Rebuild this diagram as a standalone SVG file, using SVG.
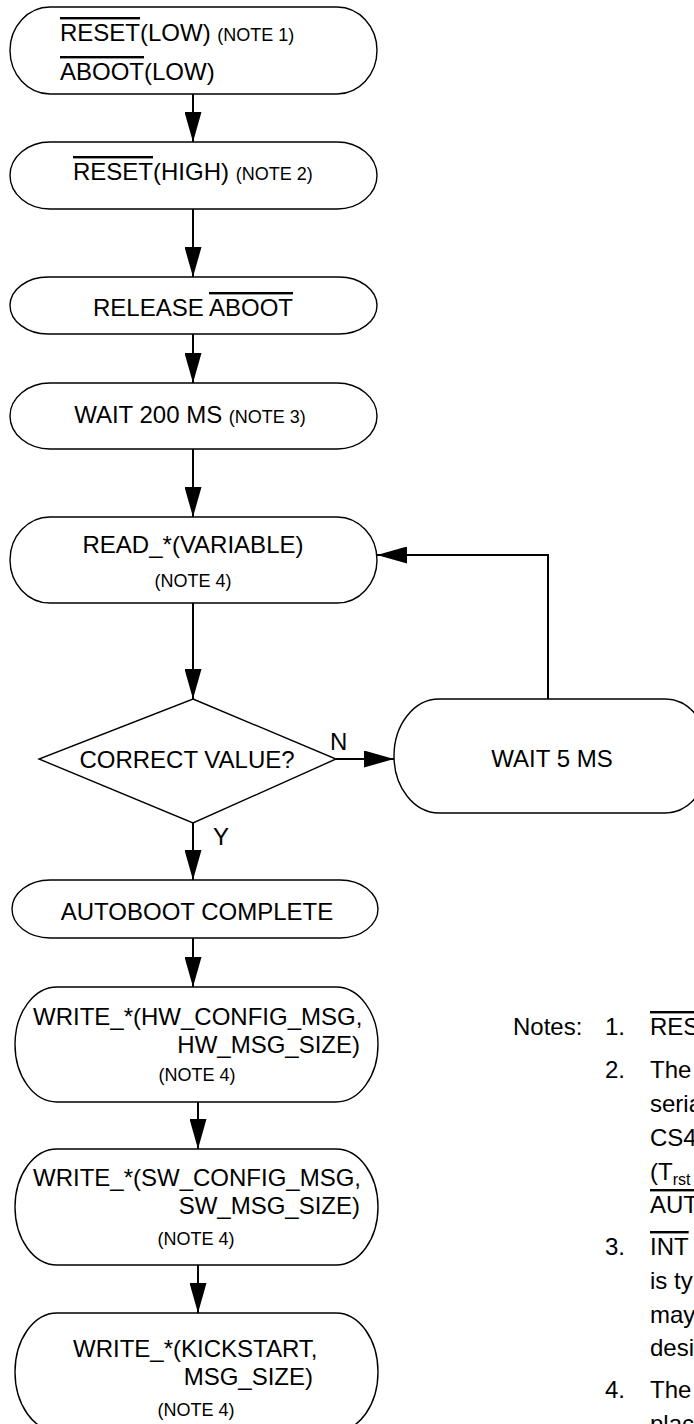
<svg xmlns="http://www.w3.org/2000/svg" width="694" height="1424" viewBox="0 0 694 1424">
<style>
text{font-family:"Liberation Sans",Arial,sans-serif;fill:#000;font-size:24px}
.s{font-size:18px}
.sub{font-size:16px}
.c{text-anchor:middle}
.e{text-anchor:end}
.ol{text-decoration:overline}
.node{fill:#fff;stroke:#000;stroke-width:1.4}
.conn{fill:none;stroke:#000;stroke-width:2}
</style>
<defs>
<marker id="ah" markerUnits="userSpaceOnUse" viewBox="0 0 30 17" markerWidth="30" markerHeight="17" refX="30" refY="8.5" orient="auto">
<path d="M0,0 L30,8.5 L0,17 Z" fill="#000"/>
</marker>
</defs>
<rect width="694" height="1424" fill="#fff"/>
<g id="connectors">
<line class="conn" x1="193" y1="94" x2="193" y2="142" marker-end="url(#ah)"/>
<line class="conn" x1="193" y1="209" x2="193" y2="277" marker-end="url(#ah)"/>
<line class="conn" x1="193" y1="334" x2="193" y2="383" marker-end="url(#ah)"/>
<line class="conn" x1="193" y1="449" x2="193" y2="517" marker-end="url(#ah)"/>
<line class="conn" x1="193" y1="603" x2="193" y2="699" marker-end="url(#ah)"/>
<line class="conn" x1="193" y1="823" x2="193" y2="880" marker-end="url(#ah)"/>
<line class="conn" x1="336" y1="759" x2="394" y2="759" marker-end="url(#ah)"/>
<path class="conn" d="M548,699 V555 H377" marker-end="url(#ah)"/>
<line class="conn" x1="193" y1="938" x2="193" y2="987" marker-end="url(#ah)"/>
<line class="conn" x1="198" y1="1102" x2="198" y2="1149" marker-end="url(#ah)"/>
<line class="conn" x1="198" y1="1265" x2="198" y2="1313" marker-end="url(#ah)"/>
<text x="330" y="750">N</text>
<text x="213" y="845">Y</text>
</g>
<g id="n1">
<rect class="node" x="10" y="7" width="367" height="87" rx="40" ry="43.5"/>
<text x="60" y="41"><tspan class="ol">RESET</tspan>(LOW) <tspan class="s">(NOTE 1)</tspan></text>
<text x="60" y="80"><tspan class="ol">ABOOT</tspan>(LOW)</text>
</g>
<g id="n2">
<rect class="node" x="10" y="142" width="367" height="67" rx="40" ry="33.5"/>
<text x="73" y="180"><tspan class="ol">RESET</tspan>(HIGH) <tspan class="s">(NOTE 2)</tspan></text>
</g>
<g id="n3">
<rect class="node" x="10" y="277" width="367" height="57" rx="38" ry="28.5"/>
<text class="c" x="193" y="316">RELEASE <tspan class="ol">ABOOT</tspan></text>
</g>
<g id="n4">
<rect class="node" x="10" y="383" width="367" height="66" rx="40" ry="33"/>
<text class="c" x="190" y="423">WAIT 200 MS <tspan class="s">(NOTE 3)</tspan></text>
</g>
<g id="n5">
<rect class="node" x="10" y="517" width="367" height="86" rx="40" ry="43"/>
<text class="c" x="193" y="553">READ_*(VARIABLE)</text>
<text class="c s" x="193" y="587">(NOTE 4)</text>
</g>
<g id="decision">
<polygon class="node" points="193,699 336,759 193,823 39,759"/>
<text class="c" x="187" y="768">CORRECT VALUE?</text>
</g>
<g id="wait5">
<rect class="node" x="394" y="699" width="316" height="114" rx="45" ry="57"/>
<text class="c" x="552" y="767">WAIT 5 MS</text>
</g>
<g id="autoboot">
<rect class="node" x="12" y="880" width="366" height="58" rx="38" ry="29"/>
<text class="c" x="197" y="920">AUTOBOOT COMPLETE</text>
</g>
<g id="hw">
<rect class="node" x="15" y="987" width="363" height="115" rx="42" ry="57.5"/>
<text x="33" y="1025">WRITE_*(HW_CONFIG_MSG,</text>
<text class="e" x="360" y="1053">HW_MSG_SIZE)</text>
<text class="c s" x="197" y="1081">(NOTE 4)</text>
</g>
<g id="sw">
<rect class="node" x="15" y="1149" width="363" height="116" rx="42" ry="58"/>
<text x="33" y="1186">WRITE_*(SW_CONFIG_MSG,</text>
<text class="e" x="360" y="1214">SW_MSG_SIZE)</text>
<text class="c s" x="196" y="1245">(NOTE 4)</text>
</g>
<g id="kick">
<rect class="node" x="15" y="1313" width="363" height="118" rx="42" ry="59"/>
<text x="73" y="1357">WRITE_*(KICKSTART,</text>
<text class="e" x="313" y="1385">MSG_SIZE)</text>
<text class="c s" x="196" y="1416">(NOTE 4)</text>
</g>
<g id="notes">
<text x="513" y="1035">Notes:</text>
<text x="605" y="1035">1.</text>
<text x="650" y="1035"><tspan class="ol">RES</tspan></text>
<text x="605" y="1078">2.</text>
<text x="650" y="1078">The</text>
<text x="650" y="1112">seria</text>
<text x="650" y="1146">CS4</text>
<text x="650" y="1180">(T<tspan class="sub" dy="5">rst</tspan></text>
<text x="650" y="1213"><tspan class="ol">AUT</tspan></text>
<text x="605" y="1255">3.</text>
<text x="650" y="1255"><tspan class="ol">INT</tspan></text>
<text x="650" y="1289">is ty</text>
<text x="650" y="1323">may</text>
<text x="650" y="1356">desi</text>
<text x="605" y="1398">4.</text>
<text x="650" y="1398">The</text>
<text x="650" y="1432">plac</text>
</g>
</svg>
